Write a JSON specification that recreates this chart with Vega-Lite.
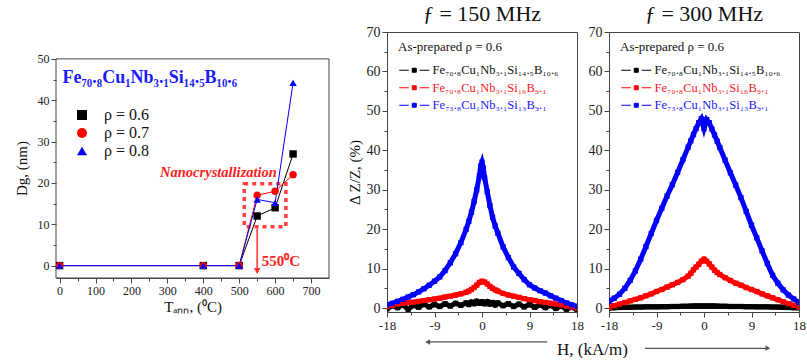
{
  "$schema": "https://vega.github.io/schema/vega-lite/v6.json",
  "background": "white",
  "padding": {"left": 14, "top": 2, "right": 0, "bottom": 0},
  "spacing": 16,
  "resolve": {"scale": {"color": "independent", "shape": "independent"}, "legend": {"color": "independent", "shape": "independent"}},
  "config": {
    "font": "Liberation Serif",
    "view": {"stroke": "#444", "strokeWidth": 1},
    "axis": {
      "labelFont": "Liberation Serif", "titleFont": "Liberation Serif",
      "labelFontSize": 13, "titleFontSize": 15, "titleFontWeight": "normal",
      "labelColor": "#222", "titleColor": "#111", "domainColor": "#444", "tickColor": "#444",
      "grid": false, "labelPadding": 2, "labelFlush": false, "labelOverlap": false
    },
    "legend": {"labelFont": "Liberation Serif", "titleFont": "Liberation Serif"},
    "title": {"font": "Liberation Serif", "fontSize": 22, "fontWeight": "normal", "color": "#111", "baseline": "alphabetic", "offset": -1}
  },
  "datasets": {
    "dg": [
      {"T": 0, "D": 0, "rho": "0.6"}, {"T": 400, "D": 0, "rho": "0.6"}, {"T": 500, "D": 0, "rho": "0.6"},
      {"T": 550, "D": 12, "rho": "0.6"}, {"T": 600, "D": 14, "rho": "0.6"}, {"T": 650, "D": 27, "rho": "0.6"},
      {"T": 0, "D": 0, "rho": "0.7"}, {"T": 400, "D": 0, "rho": "0.7"}, {"T": 500, "D": 0, "rho": "0.7"},
      {"T": 550, "D": 17, "rho": "0.7"}, {"T": 600, "D": 18, "rho": "0.7"}, {"T": 650, "D": 22, "rho": "0.7"},
      {"T": 0, "D": 0, "rho": "0.8"}, {"T": 400, "D": 0, "rho": "0.8"}, {"T": 500, "D": 0, "rho": "0.8"},
      {"T": 550, "D": 16, "rho": "0.8"}, {"T": 600, "D": 15.2, "rho": "0.8"}, {"T": 650, "D": 44.2, "rho": "0.8"}
    ],
    "zz": [
      {"f":150,"s":"k","h":-18,"v":-0.2},{"f":150,"s":"k","h":-17,"v":0.6},{"f":150,"s":"k","h":-16,"v":0.1},{"f":150,"s":"k","h":-15,"v":0.8},{"f":150,"s":"k","h":-14,"v":-0.3},{"f":150,"s":"k","h":-13,"v":0.7},{"f":150,"s":"k","h":-12,"v":0.2},{"f":150,"s":"k","h":-11,"v":1.0},{"f":150,"s":"k","h":-10,"v":0.3},{"f":150,"s":"k","h":-9,"v":0.9},{"f":150,"s":"k","h":-8,"v":0.4},{"f":150,"s":"k","h":-7,"v":1.1},{"f":150,"s":"k","h":-6,"v":0.5},{"f":150,"s":"k","h":-5,"v":1.2},{"f":150,"s":"k","h":-4,"v":0.7},{"f":150,"s":"k","h":-3,"v":1.3},{"f":150,"s":"k","h":-2.5,"v":0.9},{"f":150,"s":"k","h":-2,"v":1.5},{"f":150,"s":"k","h":-1.5,"v":1.1},{"f":150,"s":"k","h":-1,"v":1.7},{"f":150,"s":"k","h":-0.5,"v":1.2},{"f":150,"s":"k","h":0,"v":1.6},{"f":150,"s":"k","h":0.5,"v":1.1},{"f":150,"s":"k","h":1,"v":1.6},{"f":150,"s":"k","h":1.5,"v":1.0},{"f":150,"s":"k","h":2,"v":1.4},{"f":150,"s":"k","h":2.5,"v":0.8},{"f":150,"s":"k","h":3,"v":1.3},{"f":150,"s":"k","h":4,"v":0.6},{"f":150,"s":"k","h":5,"v":1.1},{"f":150,"s":"k","h":6,"v":0.4},{"f":150,"s":"k","h":7,"v":1.0},{"f":150,"s":"k","h":8,"v":0.3},{"f":150,"s":"k","h":9,"v":0.9},{"f":150,"s":"k","h":10,"v":0.2},{"f":150,"s":"k","h":11,"v":0.8},{"f":150,"s":"k","h":12,"v":0.1},{"f":150,"s":"k","h":13,"v":0.7},{"f":150,"s":"k","h":14,"v":-0.1},{"f":150,"s":"k","h":15,"v":0.5},{"f":150,"s":"k","h":16,"v":-0.3},{"f":150,"s":"k","h":17,"v":0.2},{"f":150,"s":"k","h":18,"v":-0.4},
      {"f":150,"s":"r","h":-18,"v":0.4},{"f":150,"s":"r","h":-17,"v":0.7},{"f":150,"s":"r","h":-16,"v":1.0},{"f":150,"s":"r","h":-15,"v":1.2},{"f":150,"s":"r","h":-14,"v":1.4},{"f":150,"s":"r","h":-13,"v":1.5},{"f":150,"s":"r","h":-12,"v":1.7},{"f":150,"s":"r","h":-11,"v":1.9},{"f":150,"s":"r","h":-10,"v":2.1},{"f":150,"s":"r","h":-9,"v":2.3},{"f":150,"s":"r","h":-8,"v":2.5},{"f":150,"s":"r","h":-7,"v":2.8},{"f":150,"s":"r","h":-6,"v":3.0},{"f":150,"s":"r","h":-5,"v":3.3},{"f":150,"s":"r","h":-4,"v":3.6},{"f":150,"s":"r","h":-3,"v":4.0},{"f":150,"s":"r","h":-2.5,"v":4.3},{"f":150,"s":"r","h":-2,"v":4.7},{"f":150,"s":"r","h":-1.5,"v":5.2},{"f":150,"s":"r","h":-1,"v":5.8},{"f":150,"s":"r","h":-0.5,"v":6.5},{"f":150,"s":"r","h":0,"v":6.8},{"f":150,"s":"r","h":0.5,"v":6.6},{"f":150,"s":"r","h":1,"v":6.1},{"f":150,"s":"r","h":1.5,"v":5.5},{"f":150,"s":"r","h":2,"v":5.0},{"f":150,"s":"r","h":2.5,"v":4.6},{"f":150,"s":"r","h":3,"v":4.3},{"f":150,"s":"r","h":4,"v":3.7},{"f":150,"s":"r","h":5,"v":3.3},{"f":150,"s":"r","h":6,"v":3.0},{"f":150,"s":"r","h":7,"v":2.7},{"f":150,"s":"r","h":8,"v":2.4},{"f":150,"s":"r","h":9,"v":2.1},{"f":150,"s":"r","h":10,"v":1.9},{"f":150,"s":"r","h":11,"v":1.6},{"f":150,"s":"r","h":12,"v":1.4},{"f":150,"s":"r","h":13,"v":1.2},{"f":150,"s":"r","h":14,"v":1.0},{"f":150,"s":"r","h":15,"v":0.8},{"f":150,"s":"r","h":16,"v":0.5},{"f":150,"s":"r","h":17,"v":0.3},{"f":150,"s":"r","h":18,"v":0.0},
      {"f":150,"s":"b","h":-18,"v":0.8},{"f":150,"s":"b","h":-17,"v":1.2},{"f":150,"s":"b","h":-16,"v":1.7},{"f":150,"s":"b","h":-15,"v":2.2},{"f":150,"s":"b","h":-14,"v":2.8},{"f":150,"s":"b","h":-13,"v":3.4},{"f":150,"s":"b","h":-12,"v":4.1},{"f":150,"s":"b","h":-11,"v":4.9},{"f":150,"s":"b","h":-10,"v":5.8},{"f":150,"s":"b","h":-9,"v":6.8},{"f":150,"s":"b","h":-8,"v":7.9},{"f":150,"s":"b","h":-7,"v":9.5},{"f":150,"s":"b","h":-6,"v":11.5},{"f":150,"s":"b","h":-5,"v":13.8},{"f":150,"s":"b","h":-4,"v":16.6},{"f":150,"s":"b","h":-3,"v":20.0},{"f":150,"s":"b","h":-2.5,"v":22.0},{"f":150,"s":"b","h":-2,"v":24.3},{"f":150,"s":"b","h":-1.5,"v":27.0},{"f":150,"s":"b","h":-1,"v":30.0},{"f":150,"s":"b","h":-0.5,"v":33.5},{"f":150,"s":"b","h":-0.25,"v":36.0},{"f":150,"s":"b","h":0,"v":37.0},{"f":150,"s":"b","h":0.25,"v":35.5},{"f":150,"s":"b","h":0.5,"v":33.0},{"f":150,"s":"b","h":1,"v":29.5},{"f":150,"s":"b","h":1.5,"v":26.0},{"f":150,"s":"b","h":2,"v":23.0},{"f":150,"s":"b","h":2.5,"v":20.8},{"f":150,"s":"b","h":3,"v":19.0},{"f":150,"s":"b","h":4,"v":15.5},{"f":150,"s":"b","h":5,"v":12.8},{"f":150,"s":"b","h":6,"v":10.4},{"f":150,"s":"b","h":7,"v":8.8},{"f":150,"s":"b","h":8,"v":7.2},{"f":150,"s":"b","h":9,"v":5.9},{"f":150,"s":"b","h":10,"v":5.1},{"f":150,"s":"b","h":11,"v":4.4},{"f":150,"s":"b","h":12,"v":3.8},{"f":150,"s":"b","h":13,"v":3.1},{"f":150,"s":"b","h":14,"v":2.5},{"f":150,"s":"b","h":15,"v":1.9},{"f":150,"s":"b","h":16,"v":1.3},{"f":150,"s":"b","h":17,"v":0.8},{"f":150,"s":"b","h":18,"v":0.4},
      {"f":300,"s":"k","h":-18,"v":0.0},{"f":300,"s":"k","h":-17,"v":0.1},{"f":300,"s":"k","h":-16,"v":0.15},{"f":300,"s":"k","h":-15,"v":0.2},{"f":300,"s":"k","h":-14,"v":0.2},{"f":300,"s":"k","h":-13,"v":0.25},{"f":300,"s":"k","h":-12,"v":0.25},{"f":300,"s":"k","h":-11,"v":0.3},{"f":300,"s":"k","h":-10,"v":0.3},{"f":300,"s":"k","h":-9,"v":0.3},{"f":300,"s":"k","h":-8,"v":0.35},{"f":300,"s":"k","h":-7,"v":0.35},{"f":300,"s":"k","h":-6,"v":0.4},{"f":300,"s":"k","h":-5,"v":0.4},{"f":300,"s":"k","h":-4,"v":0.45},{"f":300,"s":"k","h":-3,"v":0.45},{"f":300,"s":"k","h":-2.5,"v":0.45},{"f":300,"s":"k","h":-2,"v":0.5},{"f":300,"s":"k","h":-1.5,"v":0.5},{"f":300,"s":"k","h":-1,"v":0.5},{"f":300,"s":"k","h":-0.5,"v":0.5},{"f":300,"s":"k","h":0,"v":0.5},{"f":300,"s":"k","h":0.5,"v":0.5},{"f":300,"s":"k","h":1,"v":0.5},{"f":300,"s":"k","h":1.5,"v":0.5},{"f":300,"s":"k","h":2,"v":0.5},{"f":300,"s":"k","h":2.5,"v":0.45},{"f":300,"s":"k","h":3,"v":0.45},{"f":300,"s":"k","h":4,"v":0.45},{"f":300,"s":"k","h":5,"v":0.4},{"f":300,"s":"k","h":6,"v":0.4},{"f":300,"s":"k","h":7,"v":0.4},{"f":300,"s":"k","h":8,"v":0.35},{"f":300,"s":"k","h":9,"v":0.35},{"f":300,"s":"k","h":10,"v":0.3},{"f":300,"s":"k","h":11,"v":0.3},{"f":300,"s":"k","h":12,"v":0.3},{"f":300,"s":"k","h":13,"v":0.25},{"f":300,"s":"k","h":14,"v":0.25},{"f":300,"s":"k","h":15,"v":0.2},{"f":300,"s":"k","h":16,"v":0.15},{"f":300,"s":"k","h":17,"v":0.1},{"f":300,"s":"k","h":18,"v":0.05},
      {"f":300,"s":"r","h":-18,"v":0.2},{"f":300,"s":"r","h":-17,"v":0.6},{"f":300,"s":"r","h":-16,"v":1.0},{"f":300,"s":"r","h":-15,"v":1.4},{"f":300,"s":"r","h":-14,"v":1.8},{"f":300,"s":"r","h":-13,"v":2.2},{"f":300,"s":"r","h":-12,"v":2.6},{"f":300,"s":"r","h":-11,"v":3.1},{"f":300,"s":"r","h":-10,"v":3.6},{"f":300,"s":"r","h":-9,"v":4.2},{"f":300,"s":"r","h":-8,"v":4.7},{"f":300,"s":"r","h":-7,"v":5.3},{"f":300,"s":"r","h":-6,"v":5.9},{"f":300,"s":"r","h":-5,"v":6.5},{"f":300,"s":"r","h":-4,"v":7.2},{"f":300,"s":"r","h":-3,"v":8.1},{"f":300,"s":"r","h":-2.5,"v":8.8},{"f":300,"s":"r","h":-2,"v":9.7},{"f":300,"s":"r","h":-1.5,"v":10.4},{"f":300,"s":"r","h":-1,"v":11.1},{"f":300,"s":"r","h":-0.5,"v":11.9},{"f":300,"s":"r","h":0,"v":12.4},{"f":300,"s":"r","h":0.5,"v":11.9},{"f":300,"s":"r","h":1,"v":11.2},{"f":300,"s":"r","h":1.5,"v":10.4},{"f":300,"s":"r","h":2,"v":9.6},{"f":300,"s":"r","h":2.5,"v":9.0},{"f":300,"s":"r","h":3,"v":8.5},{"f":300,"s":"r","h":4,"v":7.7},{"f":300,"s":"r","h":5,"v":7.0},{"f":300,"s":"r","h":6,"v":6.3},{"f":300,"s":"r","h":7,"v":5.8},{"f":300,"s":"r","h":8,"v":5.2},{"f":300,"s":"r","h":9,"v":4.7},{"f":300,"s":"r","h":10,"v":4.2},{"f":300,"s":"r","h":11,"v":3.6},{"f":300,"s":"r","h":12,"v":3.1},{"f":300,"s":"r","h":13,"v":2.6},{"f":300,"s":"r","h":14,"v":2.1},{"f":300,"s":"r","h":15,"v":1.6},{"f":300,"s":"r","h":16,"v":1.1},{"f":300,"s":"r","h":17,"v":0.7},{"f":300,"s":"r","h":18,"v":0.2},
      {"f":300,"s":"b","h":-18,"v":1.7},{"f":300,"s":"b","h":-17,"v":2.5},{"f":300,"s":"b","h":-16,"v":3.5},{"f":300,"s":"b","h":-15,"v":5.0},{"f":300,"s":"b","h":-14,"v":7.0},{"f":300,"s":"b","h":-13,"v":9.4},{"f":300,"s":"b","h":-12,"v":12.4},{"f":300,"s":"b","h":-11,"v":15.6},{"f":300,"s":"b","h":-10,"v":18.9},{"f":300,"s":"b","h":-9,"v":22.2},{"f":300,"s":"b","h":-8,"v":25.3},{"f":300,"s":"b","h":-7,"v":28.4},{"f":300,"s":"b","h":-6,"v":31.3},{"f":300,"s":"b","h":-5,"v":34.4},{"f":300,"s":"b","h":-4,"v":37.6},{"f":300,"s":"b","h":-3,"v":40.8},{"f":300,"s":"b","h":-2.5,"v":42.4},{"f":300,"s":"b","h":-2,"v":44.0},{"f":300,"s":"b","h":-1.5,"v":45.5},{"f":300,"s":"b","h":-1,"v":47.0},{"f":300,"s":"b","h":-0.5,"v":48.0},{"f":300,"s":"b","h":0,"v":45.5},{"f":300,"s":"b","h":0.5,"v":47.8},{"f":300,"s":"b","h":1,"v":47.0},{"f":300,"s":"b","h":1.5,"v":45.4},{"f":300,"s":"b","h":2,"v":43.9},{"f":300,"s":"b","h":2.5,"v":42.3},{"f":300,"s":"b","h":3,"v":40.7},{"f":300,"s":"b","h":4,"v":37.5},{"f":300,"s":"b","h":5,"v":34.3},{"f":300,"s":"b","h":6,"v":31.2},{"f":300,"s":"b","h":7,"v":28.0},{"f":300,"s":"b","h":8,"v":24.5},{"f":300,"s":"b","h":9,"v":21.0},{"f":300,"s":"b","h":10,"v":17.8},{"f":300,"s":"b","h":11,"v":14.5},{"f":300,"s":"b","h":12,"v":11.3},{"f":300,"s":"b","h":13,"v":8.3},{"f":300,"s":"b","h":14,"v":6.3},{"f":300,"s":"b","h":15,"v":4.6},{"f":300,"s":"b","h":16,"v":3.3},{"f":300,"s":"b","h":17,"v":2.3},{"f":300,"s":"b","h":18,"v":1.4}
    ]
  },
  "hconcat": [
    {
      "width": 273, "height": 246,
      "view": {"stroke": null},
      "resolve": {"legend": {"color": "independent", "shape": "independent"}},
      "layer": [
        {
          "data": {"values": [{"T": -10, "T2": 750, "D": -3, "D2": 50}]},
          "mark": {"type": "rect", "filled": false, "fill": null, "stroke": "#444", "strokeWidth": 1, "clip": false},
          "encoding": {
            "x": {"field": "T", "type": "quantitative", "title": "Tₐₙₙ, (⁰C)",
              "scale": {"domain": [-10, 750], "nice": false, "zero": false},
              "axis": {"values": [0,50,100,150,200,250,300,350,400,450,500,550,600,650,700], "labelOverlap": false, "tickCount": 100,
                "labelExpr": "datum.value % 100 === 0 ? '' + datum.value : ''", "labelFontSize": 12, "titlePadding": 3,
                "tickSize": {"condition": {"test": "datum.value % 100 === 0", "value": 5}, "value": 3}}},
            "x2": {"field": "T2"},
            "y": {"field": "D", "type": "quantitative", "title": "Dg, (nm)",
              "scale": {"domain": [-3, 56.5], "nice": false, "zero": false},
              "axis": {"values": [0,5,10,15,20,25,30,35,40,45,50], "labelOverlap": false, "tickCount": 100, "domain": false, "titleY": 136,
                "labelExpr": "datum.value % 10 === 0 ? '' + datum.value : ''", "labelFontSize": 12, "titlePadding": 8,
                "tickSize": {"condition": {"test": "datum.value % 10 === 0", "value": 5}, "value": 3}}},
            "y2": {"field": "D2"}
          }
        },
        {
          "data": {"values": [{"T": 514, "T2": 630, "D": 9.4, "D2": 19.8}]},
          "mark": {"type": "rect", "filled": false, "fill": null, "stroke": "#ff4040", "strokeWidth": 3.5, "strokeDash": [4, 4], "clip": false},
          "encoding": {
            "x": {"field": "T", "type": "quantitative", "title": "Tₐₙₙ, (⁰C)"},
            "x2": {"field": "T2"},
            "y": {"field": "D", "type": "quantitative", "title": "Dg, (nm)"},
            "y2": {"field": "D2"}
          }
        },
        {
          "data": {"name": "dg"},
          "mark": {"type": "line", "strokeWidth": 1},
          "encoding": {
            "x": {"field": "T", "type": "quantitative", "title": "Tₐₙₙ, (⁰C)"},
            "y": {"field": "D", "type": "quantitative", "title": "Dg, (nm)"},
            "color": {"field": "rho", "type": "nominal", "scale": {"domain": ["0.6", "0.7", "0.8"], "range": ["#000000", "#ff0000", "#0000ff"]}, "legend": null}
          }
        },
        {
          "data": {"name": "dg"},
          "mark": {"type": "point", "filled": true, "opacity": 1, "size": 55},
          "encoding": {
            "x": {"field": "T", "type": "quantitative", "title": "Tₐₙₙ, (⁰C)"},
            "y": {"field": "D", "type": "quantitative", "title": "Dg, (nm)"},
            "shape": {"field": "rho", "type": "nominal", "scale": {"domain": ["0.6", "0.7", "0.8"], "range": ["square", "circle", "triangle-up"]}, "legend": null},
            "color": {"field": "rho", "type": "nominal",
              "legend": {"orient": "none", "legendX": 8, "legendY": 75, "title": null,
                "labelExpr": "'ρ = ' + datum.label", "labelFont": "Liberation Serif", "labelFontSize": 16, "labelColor": "#111",
                "symbolSize": 100, "symbolOffset": 10, "labelOffset": 14, "rowPadding": 2, "symbolStrokeWidth": 1,
                "encode": {"symbols": {
                  "shape": {"signal": "datum.value === '0.6' ? 'M-3,0H3M-0.75,-0.75H0.75V0.75H-0.75Z' : datum.value === '0.7' ? 'M-3,0H3M-0.8,0A0.8,0.8 0 1,0 0.8,0A0.8,0.8 0 1,0 -0.8,0Z' : 'M-3,0H3M0,-0.95L0.9,0.65H-0.9Z'"},
                  "fill": {"signal": "datum.value === '0.6' ? '#000000' : datum.value === '0.7' ? '#ff0000' : '#0000ff'"},
                  "stroke": {"signal": "datum.value === '0.6' ? '#000000' : datum.value === '0.7' ? '#ff0000' : '#0000ff'"},
                  "strokeWidth": {"value": 1}, "opacity": {"value": 1}}}}}
          }
        },
        {
          "data": {"values": [{"T": 550, "D": 9.0, "D2": -1.2}]},
          "mark": {"type": "rule", "color": "#ff3030", "strokeWidth": 1.5},
          "encoding": {"x": {"field": "T", "type": "quantitative", "title": "Tₐₙₙ, (⁰C)"}, "y": {"field": "D", "type": "quantitative", "title": "Dg, (nm)"}, "y2": {"field": "D2"}}
        },
        {
          "data": {"values": [{"T": 550, "D": -1.3}]},
          "mark": {"type": "point", "shape": "triangle-down", "filled": true, "color": "#ff3030", "size": 45, "opacity": 1},
          "encoding": {"x": {"field": "T", "type": "quantitative", "title": "Tₐₙₙ, (⁰C)"}, "y": {"field": "D", "type": "quantitative", "title": "Dg, (nm)"}}
        },
        {
          "data": {"values": [{"T": 8, "D": 45.4, "label": "Fe₇₀.₈Cu₁Nb₃.₁Si₁₄.₅B₁₀.₆"}]},
          "mark": {"type": "text", "align": "left", "baseline": "middle", "fontSize": 18, "fontWeight": "bold", "color": "#1a1aff"},
          "encoding": {"x": {"field": "T", "type": "quantitative", "title": "Tₐₙₙ, (⁰C)"}, "y": {"field": "D", "type": "quantitative", "title": "Dg, (nm)"}, "text": {"field": "label"}}
        },
        {
          "data": {"values": [{"T": 605, "D": 22.5, "label": "Nanocrystallization"}]},
          "mark": {"type": "text", "align": "right", "baseline": "middle", "fontSize": 14.5, "fontWeight": "bold", "fontStyle": "italic", "color": "#ff2020"},
          "encoding": {"x": {"field": "T", "type": "quantitative", "title": "Tₐₙₙ, (⁰C)"}, "y": {"field": "D", "type": "quantitative", "title": "Dg, (nm)"}, "text": {"field": "label"}}
        },
        {
          "data": {"values": [{"T": 563, "D": 1.2, "label": "550⁰C"}]},
          "mark": {"type": "text", "align": "left", "baseline": "middle", "fontSize": 15, "fontWeight": "bold", "color": "#ff2020"},
          "encoding": {"x": {"field": "T", "type": "quantitative", "title": "Tₐₙₙ, (⁰C)"}, "y": {"field": "D", "type": "quantitative", "title": "Dg, (nm)"}, "text": {"field": "label"}}
        }
      ]
    },
    {
      "bounds": "flush",
      "spacing": 32,
      "resolve": {"scale": {"color": "independent"}, "legend": {"color": "independent"}},
      "hconcat": [
        {
          "width": 190, "height": 280,
          "title": {"text": "ƒ = 150 MHz"},
          "layer": [
            {
              "data": {"name": "zz"}, "transform": [{"filter": "datum.f === 150"}],
              "mark": {"type": "line", "strokeWidth": 5, "clip": true},
              "encoding": {
                "x": {"field": "h", "type": "quantitative", "title": null,
                  "scale": {"domain": [-18, 18], "nice": false, "zero": false},
                  "axis": {"values": [-18,-13.5,-9,-4.5,0,4.5,9,13.5,18], "labelOverlap": false, "tickCount": 100, "labelExpr": "datum.value % 9 === 0 ? '' + datum.value : ''", "labelFontSize": 13,
                    "tickSize": {"condition": {"test": "datum.value % 9 === 0", "value": 5}, "value": 3}}},
                "y": {"field": "v", "type": "quantitative", "title": "Δ Z/Z, (%)",
                  "scale": {"domain": [-1, 70], "nice": false, "zero": false},
                  "axis": {"values": [0,5,10,15,20,25,30,35,40,45,50,55,60,65,70], "labelOverlap": false, "tickCount": 100, "labelExpr": "datum.value % 10 === 0 ? '' + datum.value : ''", "labelFontSize": 14, "titlePadding": 4,
                    "tickSize": {"condition": {"test": "datum.value % 10 === 0", "value": 5}, "value": 3}}},
                "color": {"field": "s", "type": "nominal", "scale": {"domain": ["k", "r", "b"], "range": ["#000000", "#ff0000", "#0000ff"]},
                  "legend": {"orient": "none", "legendX": 11, "legendY": 9,
                    "title": "As-prepared ρ = 0.6", "titleFontSize": 13, "titleFontWeight": "normal", "titleColor": "#111", "titlePadding": 10,
                    "labelFontSize": 12.5,
                    "labelExpr": "datum.value === 'k' ? 'Fe₇₀.₈Cu₁Nb₃.₁Si₁₄.₅B₁₀.₆' : datum.value === 'r' ? 'Fe₇₀.₈Cu₁Nb₃.₁Si₁₆B₉.₁' : 'Fe₇₃.₈Cu₁Nb₃.₁Si₁₃B₉.₁'",
                    "symbolType": "M-3,0H-1.1M-0.4,-0.4H0.4V0.4H-0.4ZM1.1,0H3", "symbolSize": 100, "symbolOffset": 10, "labelOffset": 12, "rowPadding": 4.5, "symbolStrokeWidth": 1,
                    "encode": {
                      "labels": {"update": {"fill": {"signal": "datum.value === 'k' ? '#111111' : datum.value === 'r' ? '#ff1a1a' : '#1a1aff'"}}}
                    }}}
              }
            },
            {
              "data": {"name": "zz"}, "transform": [{"filter": "datum.f === 150"}],
              "mark": {"type": "point", "shape": "square", "filled": true, "size": 28, "opacity": 1, "clip": true},
              "encoding": {
                "x": {"field": "h", "type": "quantitative", "title": null},
                "y": {"field": "v", "type": "quantitative", "title": "Δ Z/Z, (%)"},
                "color": {"field": "s", "type": "nominal"}
              }
            },
            {
              "data": {"values": [{"h": -10.5, "v": -8.6, "h2": 12.4}]},
              "mark": {"type": "rule", "color": "#555555", "strokeWidth": 1.2, "clip": false},
              "encoding": {"x": {"field": "h", "type": "quantitative", "title": null}, "x2": {"field": "h2"}, "y": {"field": "v", "type": "quantitative", "title": "Δ Z/Z, (%)"}}
            },
            {
              "data": {"values": [{"h": -10.3, "v": -8.6}]},
              "mark": {"type": "point", "shape": "triangle-left", "filled": true, "color": "#555555", "size": 30, "opacity": 1, "clip": false},
              "encoding": {"x": {"field": "h", "type": "quantitative", "title": null}, "y": {"field": "v", "type": "quantitative", "title": "Δ Z/Z, (%)"}}
            }
          ]
        },
        {
          "width": 190, "height": 280,
          "title": {"text": "ƒ = 300 MHz"},
          "layer": [
            {
              "data": {"name": "zz"}, "transform": [{"filter": "datum.f === 300"}],
              "mark": {"type": "line", "strokeWidth": 5, "clip": true},
              "encoding": {
                "x": {"field": "h", "type": "quantitative", "title": "H, (kA/m)",
                  "scale": {"domain": [-18, 18], "nice": false, "zero": false},
                  "axis": {"values": [-18,-13.5,-9,-4.5,0,4.5,9,13.5,18], "labelOverlap": false, "tickCount": 100, "labelExpr": "datum.value % 9 === 0 ? '' + datum.value : ''", "labelFontSize": 13,
                    "titleX": -17, "titleY": 42, "titleAlign": "center", "titleBaseline": "alphabetic", "titleFontSize": 17,
                    "tickSize": {"condition": {"test": "datum.value % 9 === 0", "value": 5}, "value": 3}}},
                "y": {"field": "v", "type": "quantitative", "title": null,
                  "scale": {"domain": [-1, 70], "nice": false, "zero": false},
                  "axis": {"values": [0,5,10,15,20,25,30,35,40,45,50,55,60,65,70], "labelOverlap": false, "tickCount": 100, "labelExpr": "datum.value % 10 === 0 ? '' + datum.value : ''", "labelFontSize": 14,
                    "tickSize": {"condition": {"test": "datum.value % 10 === 0", "value": 5}, "value": 3}}},
                "color": {"field": "s", "type": "nominal", "scale": {"domain": ["k", "r", "b"], "range": ["#000000", "#ff0000", "#0000ff"]},
                  "legend": {"orient": "none", "legendX": 11, "legendY": 9,
                    "title": "As-prepared ρ = 0.6", "titleFontSize": 13, "titleFontWeight": "normal", "titleColor": "#111", "titlePadding": 10,
                    "labelFontSize": 12.5,
                    "labelExpr": "datum.value === 'k' ? 'Fe₇₀.₈Cu₁Nb₃.₁Si₁₄.₅B₁₀.₆' : datum.value === 'r' ? 'Fe₇₀.₈Cu₁Nb₃.₁Si₁₆B₉.₁' : 'Fe₇₃.₈Cu₁Nb₃.₁Si₁₃B₉.₁'",
                    "symbolType": "M-3,0H-1.1M-0.4,-0.4H0.4V0.4H-0.4ZM1.1,0H3", "symbolSize": 100, "symbolOffset": 10, "labelOffset": 12, "rowPadding": 4.5, "symbolStrokeWidth": 1,
                    "encode": {
                      "labels": {"update": {"fill": {"signal": "datum.value === 'k' ? '#111111' : datum.value === 'r' ? '#ff1a1a' : '#1a1aff'"}}}
                    }}}
              }
            },
            {
              "data": {"name": "zz"}, "transform": [{"filter": "datum.f === 300"}],
              "mark": {"type": "point", "shape": "square", "filled": true, "size": 28, "opacity": 1, "clip": true},
              "encoding": {
                "x": {"field": "h", "type": "quantitative", "title": "H, (kA/m)"},
                "y": {"field": "v", "type": "quantitative", "title": null},
                "color": {"field": "s", "type": "nominal"}
              }
            },
            {
              "data": {"values": [{"h": -11.2, "v": -10.2, "h2": 12.2}]},
              "mark": {"type": "rule", "color": "#555555", "strokeWidth": 1.2, "clip": false},
              "encoding": {"x": {"field": "h", "type": "quantitative", "title": "H, (kA/m)"}, "x2": {"field": "h2"}, "y": {"field": "v", "type": "quantitative", "title": null}}
            },
            {
              "data": {"values": [{"h": 12.1, "v": -10.2}]},
              "mark": {"type": "point", "shape": "triangle-right", "filled": true, "color": "#555555", "size": 30, "opacity": 1, "clip": false},
              "encoding": {"x": {"field": "h", "type": "quantitative", "title": "H, (kA/m)"}, "y": {"field": "v", "type": "quantitative", "title": null}}
            }
          ]
        }
      ]
    }
  ]
}
